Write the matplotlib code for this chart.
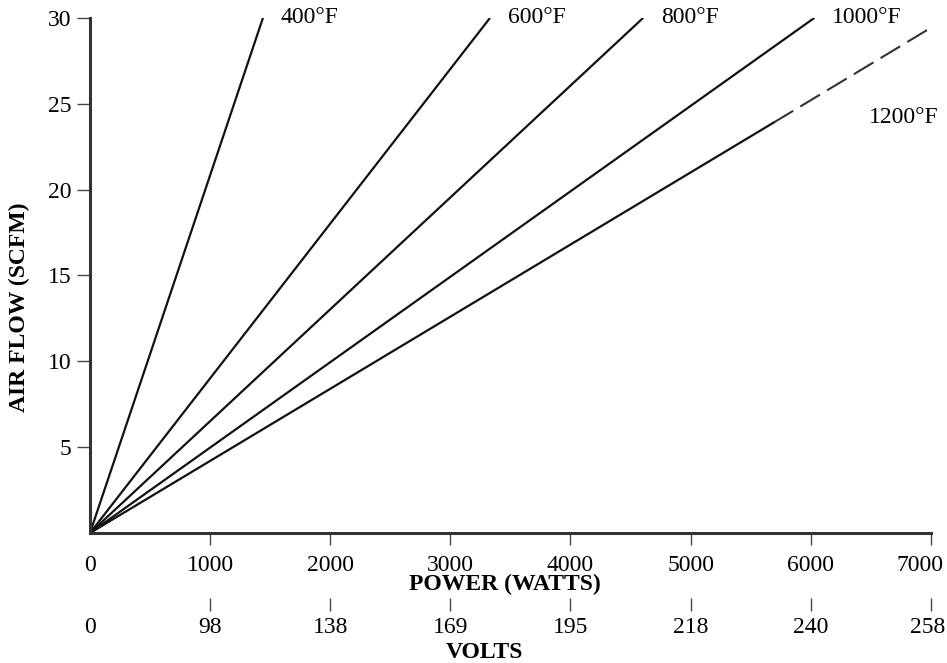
import matplotlib
matplotlib.use('Agg')
import matplotlib.pyplot as plt
import matplotlib.transforms as mtransforms

# end points of each temperature line (watts, scfm), all start at the origin
temps = ["400°F", "600°F", "800°F", "1000°F"]
end_watts = [1440, 3330, 4605, 6030]
end_scfm = [30, 30, 30, 30]

# 1200°F line: solid part then dashed extension
watts_1200_solid = [0, 5690]
scfm_1200_solid = [0, 23.9]
watts_1200_dash = [5690, 6970]
scfm_1200_dash = [23.9, 29.3]

power_ticks = [0, 1000, 2000, 3000, 4000, 5000, 6000, 7000]
volt_labels = ["0", "98", "138", "169", "195", "218", "240", "258"]
flow_ticks = [5, 10, 15, 20, 25, 30]

plt.rcParams['font.family'] = ['Liberation Serif', 'DejaVu Serif']
FS = 17

fig = plt.figure(figsize=(9.47, 6.63), dpi=100)
ax = fig.add_axes([0.095, 0.196, 0.888, 0.777])

for t, xw, yf in zip(temps, end_watts, end_scfm):
    ax.plot([0, xw], [0, yf], color='#111111', lw=1.6, solid_capstyle='butt')
    ax.text(xw + 150, yf, t, fontsize=FS, va='center', ha='left')

ax.plot(watts_1200_solid, scfm_1200_solid, color='#111111', lw=1.6)
ax.plot(watts_1200_dash, scfm_1200_dash, color='#333333', lw=1.5, dashes=(11, 4))
ax.text(6480, 24.2, "1200°F", fontsize=FS, va='center', ha='left')

ax.set_xlim(0, 7000)
ax.set_ylim(0, 30)
for s in ['top', 'right']:
    ax.spines[s].set_visible(False)
for s in ['left', 'bottom']:
    ax.spines[s].set_linewidth(2.2)
    ax.spines[s].set_color('#333333')

ax.set_yticks(flow_ticks)
ax.set_yticklabels([str(v) for v in flow_ticks], fontsize=FS)
ax.tick_params(axis='y', direction='out', length=9.5, width=1, color='#444444', pad=4)

ax.set_xticks(power_ticks)
ax.set_xticklabels([str(v) for v in power_ticks], fontsize=FS)
ax.tick_params(axis='x', direction='out', length=8.5, width=1, color='#444444', pad=7)
ax.xaxis.get_major_ticks()[0].tick1line.set_visible(False)

shift = mtransforms.ScaledTranslation(-0.11, 0, fig.dpi_scale_trans)
last = ax.get_xticklabels()[-1]
last.set_transform(last.get_transform() + shift)

ax.set_xlabel("POWER (WATTS)", fontsize=FS, fontweight='bold', labelpad=-1)
ax.xaxis.label.set_x(0.493)
ax.set_ylabel("AIR FLOW (SCFM)", fontsize=FS, fontweight='bold')
ax.yaxis.set_label_coords(-0.071, 0.439)

# second scale for volts below the power axis
sec = ax.secondary_xaxis(location=-0.127)
sec.spines['bottom'].set_visible(False)
sec.set_xticks(power_ticks)
sec.set_xticklabels(volt_labels, fontsize=FS)
sec.tick_params(axis='x', direction='out', length=9.5, width=1, color='#444444', pad=4)
sec.xaxis.get_major_ticks()[0].tick1line.set_visible(False)
lastv = sec.get_xticklabels()[-1]
lastv.set_transform(lastv.get_transform() + mtransforms.ScaledTranslation(-0.03, 0, fig.dpi_scale_trans))
sec.set_xlabel("VOLTS", fontsize=FS, fontweight='bold', labelpad=3)
sec.xaxis.label.set_x(0.469)

fig.savefig("out.png", dpi=100)
plt.close(fig)
